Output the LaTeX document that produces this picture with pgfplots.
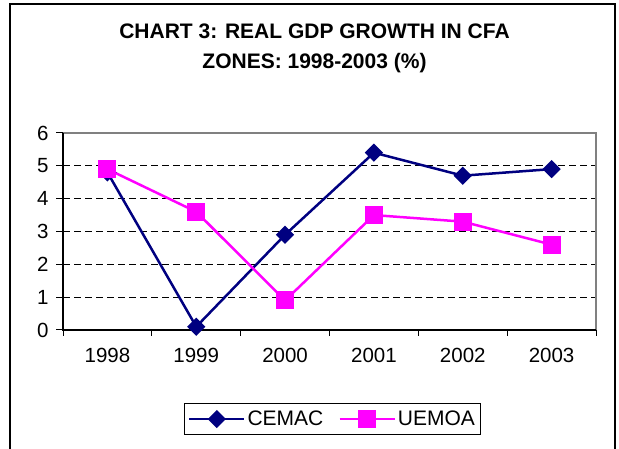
\documentclass[border=0pt]{standalone}
\usepackage{pgfplots}
\pgfplotsset{compat=1.18}
\usepackage{fontspec}
\setmainfont{Liberation Sans}
\definecolor{cemac}{HTML}{000080}
\definecolor{uemoa}{HTML}{FF00FF}
\definecolor{bordergray}{HTML}{808080}
\begin{document}
\begin{tikzpicture}[x=1bp,y=1bp]
\useasboundingbox (0,0) rectangle (619,449);
\draw[line width=2bp] (10,-5) -- (10,445) -- (615,445) -- (615,-5);
\node[anchor=base,font=\fontsize{21bp}{25bp}\selectfont\bfseries] at (314.5,410) {CHART 3: REAL GDP GROWTH IN CFA};
\node[anchor=base,font=\fontsize{21bp}{25bp}\selectfont\bfseries] at (314.5,380) {ZONES: 1998-2003 (\%)};
\begin{axis}[
  at={(63bp,119bp)}, anchor=south west,
  scale only axis, width=533bp, height=197bp,
  xmin=-0.5, xmax=5.5, ymin=0, ymax=6,
  xtick={0,1,2,3,4,5},
  xticklabels={1998,1999,2000,2001,2002,2003},
  minor xtick={-0.5,0.5,1.5,2.5,3.5,4.5,5.5},
  ytick={0,1,2,3,4,5,6},
  tick align=outside,
  x tick style={draw=none},
  minor x tick style={draw=black, line width=1bp},
  y tick style={draw=black, line width=1bp},
  major tick length=7bp,
  minor tick length=6bp,
  xtick pos=bottom, ytick pos=left,
  ymajorgrids,
  grid style={black, line width=0.8bp, dash pattern=on 7bp off 4bp},
  axis line style={draw=none},
  tick label style={font=\fontsize{20.5bp}{24bp}\selectfont},
  /pgf/number format/assume math mode=true,
  yticklabel style={xshift=-4bp},
  xticklabel style={yshift=-8bp},
  clip=false,
  legend columns=2,
  legend style={at={(0.5056,-0.452)}, anchor=center, draw=black, line width=1bp,
    font=\fontsize{21bp}{25bp}\selectfont, inner xsep=4bp, inner ysep=5bp,
    /tikz/every even column/.append style={column sep=13bp}},
  legend image code/.code={\draw[#1, mark repeat=2, mark phase=2] plot coordinates {(0bp,0bp) (27.5bp,0bp) (55bp,0bp)};},
]
\draw[bordergray, line width=2bp] (rel axis cs:0,1) -- (rel axis cs:1,1) -- (rel axis cs:1,0);
\draw[black, line width=1.5bp] (rel axis cs:0,1) -- (rel axis cs:0,0) -- (rel axis cs:1,0);
\addplot[cemac, line width=2.5bp, mark=square*, mark size=5.2bp,
  mark options={rotate=45, draw=none, fill=cemac, solid}]
  coordinates {(0,4.8) (1,0.1) (2,2.9) (3,5.4) (4,4.7) (5,4.9)};
\addlegendentry{CEMAC}
\addplot[uemoa, line width=2.5bp, mark=square*, mark size=7.8bp,
  mark options={draw=none, fill=uemoa, solid}]
  coordinates {(0,4.9) (1,3.6) (2,0.9) (3,3.5) (4,3.3) (5,2.6)};
\addlegendentry{UEMOA}
\end{axis}
\end{tikzpicture}
\end{document}
